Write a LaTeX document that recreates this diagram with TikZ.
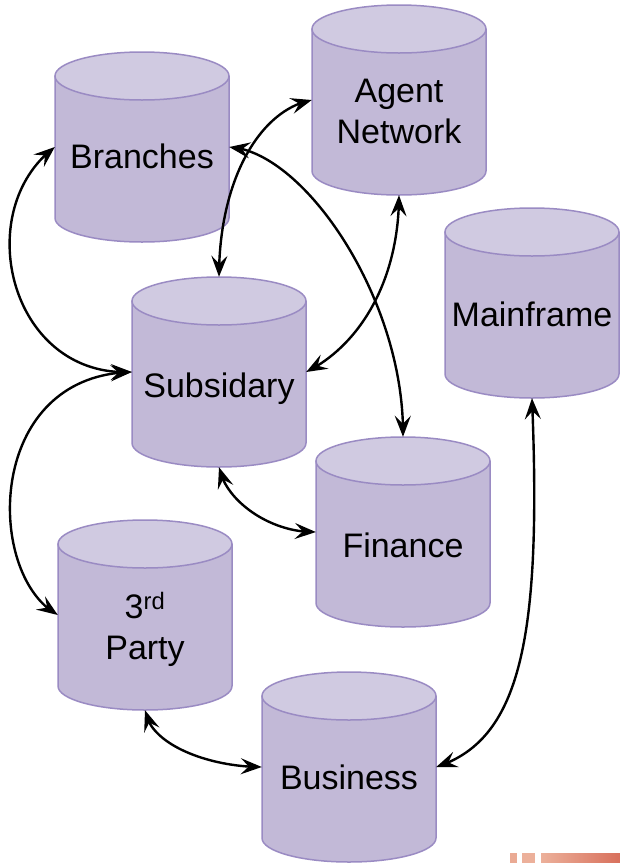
\documentclass[tikz,border=0pt]{standalone}
\usepackage{fontspec}
\setmainfont{Liberation Sans}
\usetikzlibrary{arrows.meta,bending}

\definecolor{drumside}{HTML}{C2B9D7}
\definecolor{drumlid}{HTML}{D0CAE1}
\definecolor{drumedge}{HTML}{9A8BC3}
\definecolor{barA}{HTML}{EAAA94}
\definecolor{barB}{HTML}{ECB09A}
\definecolor{barC}{HTML}{D8705C}

\tikzset{
  drumbody/.style={fill=drumside, draw=drumedge, line width=1.5pt, line join=round},
  drumtop/.style={fill=drumlid, draw=drumedge, line width=1.5pt},
  drumbox/.style={rectangle, minimum width=174pt, minimum height=190pt, inner sep=0pt},
  drumtext/.style={font=\fontsize{34}{41}\selectfont, inner sep=0pt, align=center},
  link/.style={line width=2.4pt, black,
    {Stealth[length=21pt, width=16pt, inset=8pt]}-{Stealth[length=21pt, width=16pt, inset=8pt]}}
}

% database drum: #1 name, #2 left edge, #3 top edge
\newcommand{\dbdrum}[3]{%
  \pgfmathsetmacro\dL{#2}%
  \pgfmathsetmacro\dR{#2+174}%
  \pgfmathsetmacro\dC{#2+87}%
  \pgfmathsetmacro\dT{#3+24}%
  \pgfmathsetmacro\dB{#3+166}%
  \pgfmathsetmacro\dBot{#3+190}%
  \pgfmathsetmacro\dk{0.5523*24}%
  \pgfmathsetmacro\dkx{0.5523*87}%
  \path[drumbody] (\dL,\dT) -- (\dL,\dB)
     .. controls (\dL,\dB+\dk) and (\dC-\dkx,\dBot) .. (\dC,\dBot)
     .. controls (\dC+\dkx,\dBot) and (\dR,\dB+\dk) .. (\dR,\dB)
     -- (\dR,\dT) -- cycle;
  \path[drumtop] (\dC,\dT) ellipse[x radius=87pt, y radius=24pt];
  \node[drumbox] (#1) at (\dC,#3+95) {};
}

\begin{document}
\begin{tikzpicture}[x=1pt, y=-1pt]
  \useasboundingbox (0,0) rectangle (620,863);

  % storage drums
  \dbdrum{ag}{312}{5}
  \dbdrum{br}{55}{52}
  \dbdrum{mf}{445}{208}
  \dbdrum{sb}{132}{277}
  \dbdrum{fi}{316}{437}
  \dbdrum{tp}{58}{520}
  \dbdrum{bu}{262}{672}

  % labels
  \node[drumtext, anchor=base] (brtxt) at (142,168) {Branches};
  \node[drumtext] (agtxt) at (399,111) {Agent\\Network};
  \node[drumtext, anchor=base] (mftxt) at (532,326) {Mainframe};
  \node[drumtext, anchor=base] (sbtxt) at (219,397) {Subsidary};
  \node[drumtext, anchor=base] (fitxt) at (403,557) {Finance};
  \node[drumtext] (tptxt) at (145,629) {3\textsuperscript{rd}\\Party};
  \node[drumtext, anchor=base] (butxt) at (349,789) {Business};

  % two-way links
  \draw[link] (br.west) .. controls +(-85,64) and +(-122,6) .. (sb.west);
  \draw[link] (br.east) .. controls +(75,4) and +(2,-137) .. (fi.north);
  \draw[link] (ag.west) .. controls +(-52,10) and +(0,-97) .. (sb.north);
  \draw[link] (ag.south) .. controls +(0,85) and +(54,-27) .. (sb.east);
  \draw[link] (sb.west) .. controls +(-147,3) and +(-73,-40) .. (tp.west);
  \draw[link] (sb.south) .. controls +(6,33) and +(-46,1) .. (fi.west);
  \draw[link] (tp.south) .. controls +(5,35) and +(-52,0) .. (bu.west);
  \draw[link] (mf.south) .. controls +(10,242) and +(84,-27) .. (bu.east);

  % corner strip
  \fill[barA] (510,853) rectangle (517,863);
  \fill[barB] (522,853) rectangle (535,863);
  \shade[left color=barB, right color=barC] (541,853) rectangle (620,863);
\end{tikzpicture}
\end{document}
